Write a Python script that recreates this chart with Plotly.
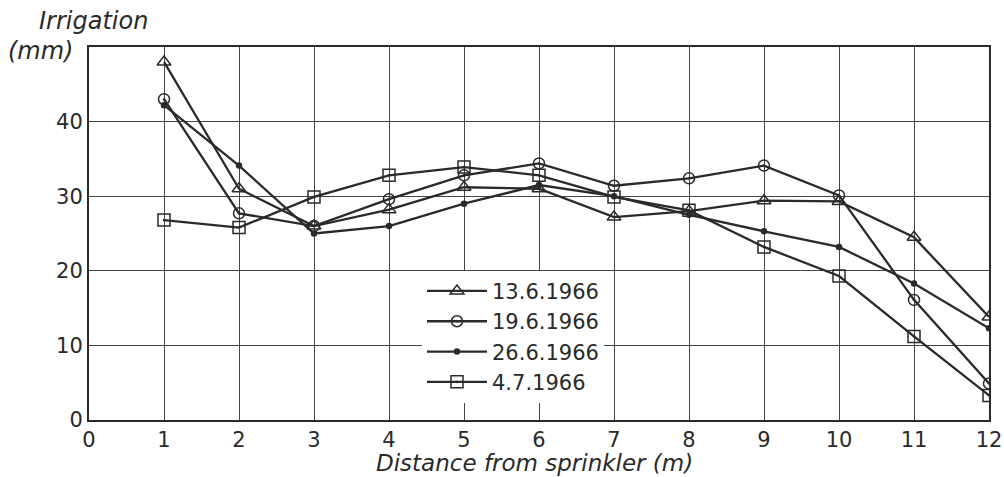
import plotly.graph_objects as go

distance = [1, 2, 3, 4, 5, 6, 7, 8, 9, 10, 11, 12]
labels = ["13.6.1966", "19.6.1966", "26.6.1966", "4.7.1966"]
irr_13_6 = [48.0, 31.0, 26.0, 28.2, 31.2, 31.0, 27.2, 28.0, 29.4, 29.3, 24.5, 13.8]
irr_19_6 = [43.0, 27.7, 26.0, 29.6, 32.8, 34.4, 31.4, 32.4, 34.1, 30.1, 16.1, 4.9]
irr_26_6 = [42.2, 34.1, 25.0, 26.0, 29.0, 31.5, 30.0, 27.5, 25.3, 23.2, 18.3, 12.3]
irr_4_7 = [26.8, 25.8, 29.9, 32.8, 33.9, 32.8, 29.9, 28.1, 23.2, 19.3, 11.2, 3.3]
x_ticks = list(range(0, 13))
y_ticks = [0, 10, 20, 30, 40]

series = [irr_13_6, irr_19_6, irr_26_6, irr_4_7]
symbols = ["triangle-up-open", "circle-open-dot", "circle", "square-open-dot"]
sizes = [12, 11, 5, 12]

ink = "#2a2a2a"
font_family = "DejaVu Sans"

fig = go.Figure()
for lab, ys, sym, sz in zip(labels, series, symbols, sizes):
    fig.add_trace(go.Scatter(
        x=distance, y=ys, name=lab, mode="lines+markers",
        line=dict(color=ink, width=2.3),
        marker=dict(symbol=sym, size=sz, color=ink, line=dict(color=ink, width=1.5)),
    ))

fig.update_layout(
    width=1004, height=477,
    margin=dict(l=89, r=15, t=47, b=57, autoexpand=False),
    paper_bgcolor="white", plot_bgcolor="white",
    font=dict(family=font_family, color=ink, size=20),
    showlegend=True,
    legend=dict(
        x=0.37, y=0.40, xanchor="left", yanchor="top",
        bgcolor="white", borderwidth=0,
        font=dict(size=21, family=font_family, color=ink),
        itemwidth=60, tracegroupgap=0,
    ),
    xaxis=dict(
        range=[0, 12], tickvals=x_ticks, ticktext=[str(v) for v in x_ticks],
        showgrid=True, gridcolor="#444", gridwidth=1.3,
        showline=True, linecolor=ink, linewidth=2, mirror=True,
        ticks="", zeroline=False, tickfont=dict(size=21), automargin=False,
    ),
    yaxis=dict(
        range=[0, 50], tickvals=y_ticks, ticktext=[str(v) for v in y_ticks],
        showgrid=True, gridcolor="#444", gridwidth=1.3,
        showline=True, linecolor=ink, linewidth=2, mirror=True,
        ticks="", zeroline=False, tickfont=dict(size=21), automargin=False,
    ),
    annotations=[
        dict(text="<i>Irrigation</i>", xref="paper", yref="paper", x=-0.058, y=1.0,
             xanchor="left", yanchor="bottom", yshift=10, showarrow=False, font=dict(size=24)),
        dict(text="<i>(mm)</i>", xref="paper", yref="paper", x=-0.092, y=1.0,
             xanchor="left", yanchor="bottom", yshift=-20, showarrow=False, font=dict(size=24)),
        dict(text="<i>Distance from sprinkler (m)</i>", xref="paper", yref="paper", x=0.495, y=0.0,
             xanchor="center", yanchor="middle", yshift=-43, showarrow=False, font=dict(size=23)),
    ],
)

fig.write_html("out.html", config={"displayModeBar": False},
               post_script="document.body.style.margin='0';document.body.style.overflow='hidden';")
